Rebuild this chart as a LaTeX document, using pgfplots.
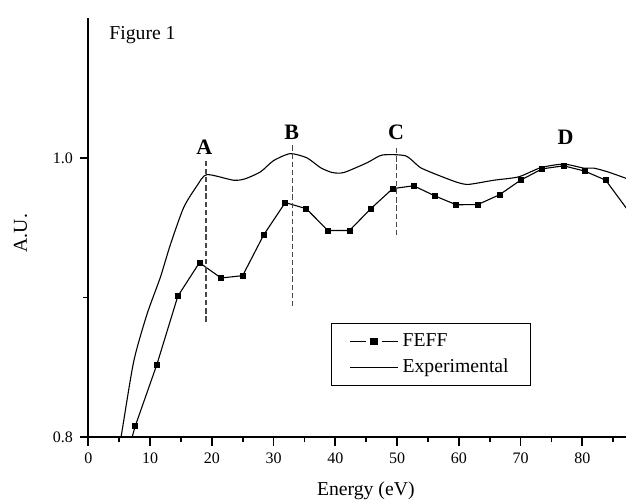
\documentclass[border=0pt]{standalone}
\usepackage{fontspec}
\setmainfont{Liberation Serif}
\usepackage{pgfplots}
\pgfplotsset{compat=1.18}
\definecolor{dashgray}{HTML}{484848}
\begin{document}
\begin{tikzpicture}
\begin{axis}[
  scale only axis,
  width=268.9pt, height=209.6pt,
  xmin=0, xmax=87.1, ymin=0.8, ymax=1.1,
  axis x line*=bottom, axis y line*=left,
  axis line style={line width=0.9pt},
  every tick/.style={line width=0.9pt, black},
  tick align=outside,
  major tick length=4.2pt, minor tick length=2.5pt,
  xtick={0,10,...,80}, minor xtick={5,15,...,85},
  ytick={0.8,1.0}, minor ytick={0.9},
  yticklabel style={/pgf/number format/fixed, /pgf/number format/fixed zerofill, /pgf/number format/precision=1},
  /pgf/number format/assume math mode=true,
  tick label style={font=\fontsize{8}{9}\selectfont},
  label style={font=\fontsize{9.85}{11}\selectfont},
  xlabel={Energy (eV)},
  ylabel={A.U.},
  xlabel style={at={(axis description cs:0.516,-0.1265)}, anchor=center},
  ylabel style={at={(axis description cs:-0.1260,0.487)}, anchor=center, rotate=0},
  legend style={at={(axis cs:39.3,0.8816)}, anchor=north west, draw=black, line width=0.5pt,
    font=\fontsize{9.85}{11}\selectfont, inner xsep=9pt, inner ysep=4.5pt,
    nodes={inner xsep=2pt, inner ysep=0pt, text height=7pt, text depth=2pt}, row sep=4pt},
  legend cell align=left,
]
\coordinate (BL) at (rel axis cs:0,0);
\addplot[black, line width=0.55pt, forget plot] coordinates {
(4.1,0.753) (7.6,0.808) (11.1,0.852) (14.5,0.901) (18.0,0.925) (21.5,0.914) (25.0,0.9157)
(28.4,0.9448) (31.9,0.968) (35.3,0.9636) (38.8,0.948) (42.3,0.948) (45.8,0.9638)
(49.3,0.978) (52.7,0.980) (56.2,0.9726) (59.6,0.9664) (63.1,0.9666) (66.6,0.9736)
(70.0,0.984) (73.5,0.9921) (77.0,0.9943) (80.4,0.9905) (83.8,0.984) (87.3,0.963)
};
\addplot[black, only marks, mark=square*, mark size=1.25pt,
  mark options={solid, fill=black},
  legend image code/.code={
    \draw[black, line width=0.55pt] (0pt,0pt) -- (8.2pt,0pt) (15.8pt,0pt) -- (24pt,0pt);
    \fill[black] (10.4pt,-1.6pt) rectangle (13.6pt,1.6pt);
  }] coordinates {
(7.6,0.808) (11.1,0.852) (14.5,0.901) (18.0,0.925) (21.5,0.914) (25.0,0.9157)
(28.4,0.9448) (31.9,0.968) (35.3,0.9636) (38.8,0.948) (42.3,0.948) (45.8,0.9638)
(49.3,0.978) (52.7,0.980) (56.2,0.9726) (59.6,0.9664) (63.1,0.9666) (66.6,0.9736)
(70.0,0.984) (73.5,0.9921) (77.0,0.9943) (80.4,0.9905) (83.8,0.984) (87.3,0.963)
};
\addlegendentry{FEFF}
\addplot[black, line width=0.55pt, smooth, tension=0.4,
  legend image code/.code={\draw[black, line width=0.55pt] (0pt,0pt) -- (24pt,0pt);}] coordinates {
(4.5,0.78) (5.3,0.8) (7.34,0.854) (9.5,0.888) (11.67,0.9145) (13.3,0.938) (15.45,0.9645)
(17.6,0.98) (19.2,0.988) (23.5,0.984) (25.4,0.985) (27.9,0.990) (30.0,0.998) (32.7,1.003)
(35.4,1.000) (37.6,0.993) (39.5,0.9895) (41.4,0.9895) (45.2,0.9966) (47.6,1.002) (51.4,1.0014)
(53.8,0.993) (57.0,0.987) (59.8,0.9824) (61.6,0.981) (65.7,0.984) (69.7,0.9864) (73.3,0.993)
(77.0,0.9955) (80.3,0.9926) (81.9,0.9926) (84.1,0.990) (87.0,0.9855) (88,0.984)
};
\addlegendentry{Experimental}
\addplot[dashgray, line width=0.75pt, dash pattern=on 2.7pt off 1.4pt, forget plot] coordinates {(19.1,0.998) (19.1,0.881)};
\addplot[dashgray, line width=0.75pt, dash pattern=on 2.7pt off 1.4pt, forget plot] coordinates {(33.1,1.009) (33.1,0.892)};
\addplot[dashgray, line width=0.75pt, dash pattern=on 2.7pt off 1.4pt, forget plot] coordinates {(49.9,1.007) (49.9,0.944)};
\node[anchor=base, inner sep=0pt, font=\fontsize{11}{12}\selectfont\bfseries] at (axis cs:18.79,1.0021) {A};
\node[anchor=base, inner sep=0pt, font=\fontsize{11}{12}\selectfont\bfseries] at (axis cs:32.94,1.0133) {B};
\node[anchor=base, inner sep=0pt, font=\fontsize{11}{12}\selectfont\bfseries] at (axis cs:49.83,1.0133) {C};
\node[anchor=base, inner sep=0pt, font=\fontsize{11}{12}\selectfont\bfseries] at (axis cs:77.31,1.0098) {D};
\node[anchor=base west, inner sep=0pt, font=\fontsize{9.85}{11}\selectfont] at (axis cs:3.35,1.0847) {Figure 1};
\end{axis}
\pgfresetboundingbox
\useasboundingbox (BL) ++(-44.15pt,-31.35pt) rectangle ++(313pt,250pt);
\end{tikzpicture}
\end{document}
